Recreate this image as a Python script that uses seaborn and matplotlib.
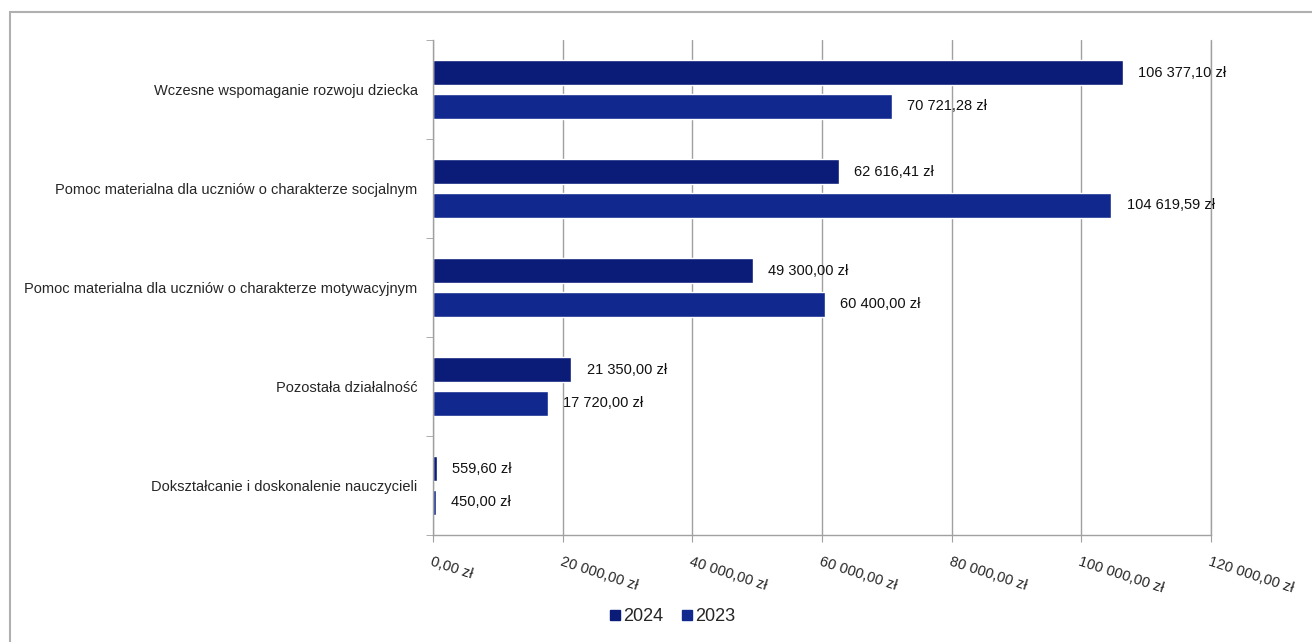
import matplotlib
matplotlib.use("Agg")
import matplotlib.pyplot as plt
import matplotlib.patches as mpatches
from matplotlib.lines import Line2D
import numpy as np
import pandas as pd
import seaborn as sns

categories = [
    "Wczesne wspomaganie rozwoju dziecka",
    "Pomoc materialna dla uczniów o charakterze socjalnym",
    "Pomoc materialna dla uczniów o charakterze motywacyjnym",
    "Pozostała działalność",
    "Dokształcanie i doskonalenie nauczycieli",
]
values_2024 = [106377.10, 62616.41, 49300.00, 21350.00, 559.60]
values_2023 = [70721.28, 104619.59, 60400.00, 17720.00, 450.00]
years = ["2024", "2023"]
x_ticks = [0, 20000, 40000, 60000, 80000, 100000, 120000]

colors = {"2024": "#0b1b78", "2023": "#11298f"}


def fmt_pl(v):
    s = f"{v:,.2f}".replace(",", " ").replace(".", ",")
    return s + " zł"


df = pd.DataFrame({
    "kategoria": categories * 2,
    "rok": ["2024"] * len(categories) + ["2023"] * len(categories),
    "kwota": values_2024 + values_2023,
})

sns.set_style("white")
plt.rcParams["font.family"] = ["Liberation Sans", "DejaVu Sans"]

fig = plt.figure(figsize=(13.12, 6.42), dpi=100)
ax = fig.add_axes([433 / 1312, 1 - 535 / 642, (1211 - 433) / 1312, (535 - 40) / 642])

sns.barplot(data=df, y="kategoria", x="kwota", hue="rok", hue_order=years,
            order=categories, palette=colors, width=0.68, gap=0.24,
            orient="h", ax=ax, legend=False, saturation=1)

# value labels
for cont in ax.containers:
    labels = [fmt_pl(b.get_width()) for b in cont]
    ax.bar_label(cont, labels=labels, padding=11, fontsize=10.5, color="#111111")

ax.set_xlim(0, 120000)
ax.set_ylim(len(categories) - 0.5, -0.5)
ax.set_xticks(x_ticks)
ax.set_xticklabels([fmt_pl(t) for t in x_ticks], rotation=-18, ha="left",
                   va="top", rotation_mode="anchor", fontsize=10.5)
ax.tick_params(axis="x", length=5, color="#a0a0a0", direction="out", pad=9, bottom=True)
ax.tick_params(axis="y", which="major", length=0, pad=11, labelsize=10.5)
ax.set_yticks(np.arange(-0.5, len(categories)), minor=True)
ax.tick_params(axis="y", which="minor", length=5, color="#a0a0a0", left=True)
ax.set_xlabel("")
ax.set_ylabel("")

ax.grid(axis="x", color="#a0a0a0", linewidth=1)
ax.axvline(120000, color="#a0a0a0", linewidth=1, clip_on=False, zorder=0)
ax.set_axisbelow(True)
for side in ["top", "right"]:
    ax.spines[side].set_visible(False)
for side in ["left", "bottom"]:
    ax.spines[side].set_color("#a0a0a0")
    ax.spines[side].set_linewidth(1)

handles = [Line2D([], [], marker="s", linestyle="", markersize=7,
                  markerfacecolor=colors[y], markeredgecolor=colors[y]) for y in years]
fig.legend(handles, years, loc="center", bbox_to_anchor=(0.512, 0.039), ncol=2,
           frameon=False, fontsize=13, handletextpad=0.05, columnspacing=0.9,
           handlelength=0.8)

# outer chart border
frame = mpatches.Rectangle((10 / 1312, -0.2), 1.2, 1.2 - 12 / 642,
                           transform=fig.transFigure, fill=False,
                           edgecolor="#b0b0b0", linewidth=1.5)
fig.patches.append(frame)

fig.savefig("out.png", dpi=100)
